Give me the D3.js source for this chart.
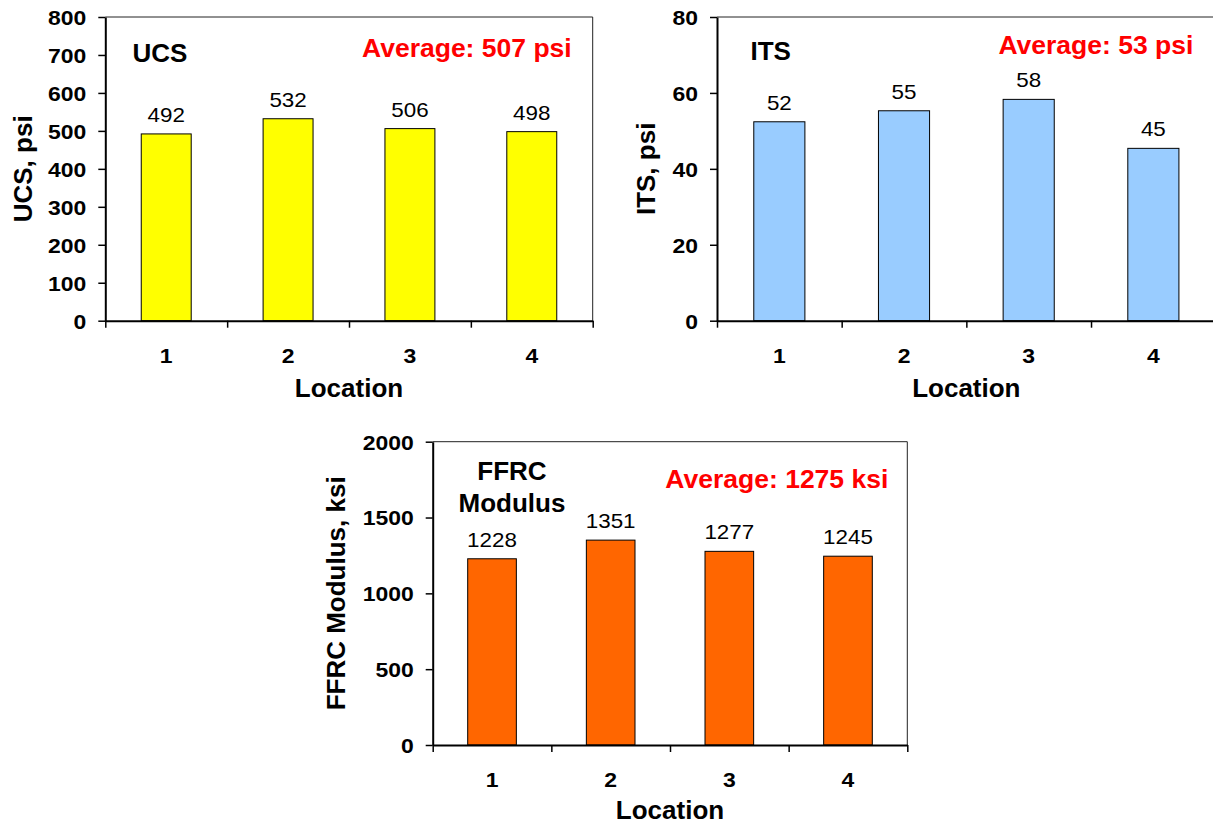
<!DOCTYPE html>
<html><head><meta charset="utf-8">
<script src="https://cdn.jsdelivr.net/npm/d3@7"></script>
<style>
body{margin:0;background:#fff;}
svg{display:block;}
text{font-family:"Liberation Sans",Arial,Helvetica,sans-serif;}
</style>
</head><body>
<svg id="c" width="1213" height="825"></svg>
<script>
// ---- data ----
const locations = ["1", "2", "3", "4"];
const ucsValues = [492, 532, 506, 498];
const itsValues = [52.4, 55.3, 58.3, 45.4];
const ffrcValues = [1228, 1351, 1277, 1245];
const ucsTicks = [0, 100, 200, 300, 400, 500, 600, 700, 800];
const itsTicks = [0, 20, 40, 60, 80];
const ffrcTicks = [0, 500, 1000, 1500, 2000];
const ucsTitle = ["UCS"];
const itsTitle = ["ITS"];
const ffrcTitle = ["FFRC", "Modulus"];
const ucsAverage = "Average: 507 psi";
const itsAverage = "Average: 53 psi";
const ffrcAverage = "Average: 1275 ksi";
const ucsAxisTitle = "UCS, psi";
const itsAxisTitle = "ITS, psi";
const ffrcAxisTitle = "FFRC Modulus, ksi";
const xAxisTitle = "Location";

// ---- drawing ----
const FONT = '"Liberation Sans", Arial, Helvetica, sans-serif';
const NUM_SX = 1.12;
const svg = d3.select("#c");

function drawChart(o) {
  const g = svg.append("g");
  const x = d3.scaleBand().domain(locations).range([o.left, o.right])
    .paddingInner(0.59).paddingOuter(0.295);
  const y = d3.scaleLinear().domain([0, d3.max(o.ticks)]).range([o.bottom, o.top]);
  const xb = d3.scaleLinear().domain([0, locations.length]).range([o.left, o.right]);

  // plot-area frame (top + right)
  g.append("path")
    .attr("d", `M${o.left},${o.top}H${o.right}V${o.bottom}`)
    .attr("fill", "none").attr("stroke", "#222").attr("stroke-width", 1);

  // bars
  g.selectAll("rect.bar").data(o.values).join("rect")
    .attr("class", "bar")
    .attr("x", (d, i) => x(locations[i]))
    .attr("y", d => y(d))
    .attr("width", x.bandwidth())
    .attr("height", d => y(0) - y(d))
    .attr("fill", o.color).attr("stroke", "#000").attr("stroke-width", 1);

  // data labels
  g.selectAll("text.val").data(o.values).join("text")
    .attr("class", "val")
    .attr("transform", (d, i) => `translate(${x(locations[i]) + x.bandwidth() / 2},${y(d) - 12}) scale(${NUM_SX},1)`)
    .attr("text-anchor", "middle")
    .attr("font-size", 20).attr("fill", "#000")
    .text(d => d3.format(".0f")(d));

  // y axis
  const ya = g.append("g").attr("transform", `translate(${o.left},0)`)
    .call(d3.axisLeft(y).tickValues(o.ticks).tickSize(7).tickSizeOuter(0).tickFormat(d3.format("d")))
    .attr("font-family", FONT).attr("font-size", 20.5).attr("font-weight", "bold");
  ya.select(".domain").attr("stroke", "#000").attr("stroke-width", 2);
  ya.selectAll(".tick line").attr("stroke", "#000").attr("stroke-width", 1.5);
  ya.selectAll(".tick text").attr("fill", "#000")
    .attr("x", -19 / NUM_SX).attr("dy", "0.36em")
    .attr("transform", `scale(${NUM_SX},1)`);

  // x axis: boundary tick marks
  const xa = g.append("g").attr("transform", `translate(0,${o.bottom})`)
    .call(d3.axisBottom(xb).tickValues(d3.range(0, locations.length + 1)).tickSize(7).tickSizeOuter(0).tickFormat(""));
  xa.select(".domain").attr("stroke", "#000").attr("stroke-width", 2);
  xa.selectAll(".tick line").attr("stroke", "#000").attr("stroke-width", 1.5);

  // x axis category labels
  g.selectAll("text.cat").data(locations).join("text")
    .attr("class", "cat")
    .attr("transform", d => `translate(${x(d) + x.bandwidth() / 2},${o.bottom + 42}) scale(${NUM_SX},1)`)
    .attr("text-anchor", "middle").attr("font-size", 20.5).attr("font-weight", "bold")
    .text(d => d);

  // axis titles
  g.append("text")
    .attr("x", (o.left + o.right) / 2).attr("y", o.bottom + o.xTitleDy)
    .attr("text-anchor", "middle").attr("font-size", 26).attr("font-weight", "bold")
    .text(xAxisTitle);
  g.append("text")
    .attr("transform", `translate(${o.yTitleX},${(o.top + o.bottom) / 2}) rotate(-90)`)
    .attr("text-anchor", "middle").attr("font-size", 26).attr("font-weight", "bold")
    .text(o.axisTitle);

  // in-plot title
  g.selectAll("text.ttl").data(o.title).join("text")
    .attr("class", "ttl")
    .attr("x", o.titleX).attr("y", (d, i) => o.titleY[i])
    .attr("text-anchor", o.titleAnchor).attr("font-size", 26).attr("font-weight", "bold")
    .text(d => d);

  // average annotation
  g.append("text")
    .attr("x", o.right - o.avgDx).attr("y", o.avgY)
    .attr("text-anchor", "end").attr("font-size", 26.5).attr("font-weight", "bold")
    .attr("fill", "#ff0000")
    .text(o.average);
}

drawChart({
  values: ucsValues, ticks: ucsTicks, color: "#ffff00",
  left: 105.3, right: 592.7, top: 17, bottom: 320.7, xTitleDy: 76,
  axisTitle: ucsAxisTitle, yTitleX: 32,
  title: ucsTitle, titleX: 132.5, titleY: [61.7], titleAnchor: "start",
  average: ucsAverage, avgDx: 21, avgY: 56.7
});
drawChart({
  values: itsValues, ticks: itsTicks, color: "#99ccff",
  left: 717, right: 1215.7, top: 17, bottom: 320.7, xTitleDy: 76,
  axisTitle: itsAxisTitle, yTitleX: 655,
  title: itsTitle, titleX: 750.5, titleY: [60], titleAnchor: "start",
  average: itsAverage, avgDx: 22.4, avgY: 53.5
});
drawChart({
  values: ffrcValues, ticks: ffrcTicks, color: "#ff6600",
  left: 432.7, right: 907.3, top: 441.7, bottom: 745, xTitleDy: 73.5,
  axisTitle: ffrcAxisTitle, yTitleX: 345,
  title: ffrcTitle, titleX: 512, titleY: [480, 511.7], titleAnchor: "middle",
  average: ffrcAverage, avgDx: 19, avgY: 488.3
});
</script>
</body></html>
